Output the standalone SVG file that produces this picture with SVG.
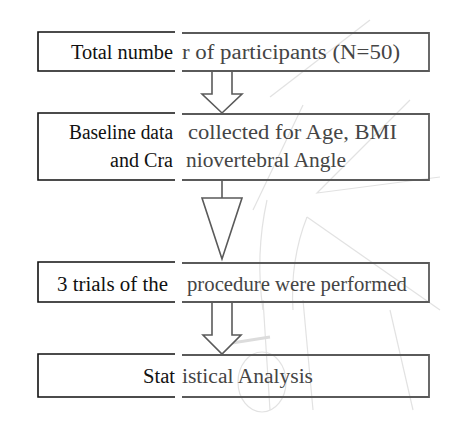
<svg xmlns="http://www.w3.org/2000/svg" width="474" height="427" viewBox="0 0 474 427">
<style>
.bl{fill:none;stroke:#111;stroke-width:1.6}
.br{fill:none;stroke:#5a5a5a;stroke-width:1.8}
text{font-family:'Liberation Serif','Tinos','Times New Roman','Noto Serif','DejaVu Serif','Nimbus Roman','FreeSerif',Times,serif;font-size:20px}
.tl{fill:#111}
.tr{fill:#454545;font-size:20.5px}
.ar{fill:#fff;stroke:#5a5a5a;stroke-width:1.6;stroke-linejoin:miter}
.wm{fill:none;stroke:#e2e2e2;stroke-width:1.2}
</style>
<rect width="474" height="427" fill="#fff"/>
<g id="watermark">
<path class="wm" d="M370,20 L270,97"/>
<path class="wm" d="M410,100 L317,193 L440,177"/>
<path class="wm" d="M303,105 L253,210"/>
<path class="wm" d="M267,200 Q255,255 263,310"/>
<path class="wm" d="M307,217 Q290,260 293,310"/>
<path class="wm" d="M307,217 L440,310"/>
<path class="wm" d="M263,300 L270,410"/>
<path class="wm" d="M303,300 L313,410"/>
<path class="wm" d="M390,310 L413,410"/>
<ellipse class="wm" cx="262" cy="382" rx="24" ry="30"/>
<path d="M232,343 L270,337" stroke="#dcdcdc" stroke-width="3" fill="none"/>
</g>
<g id="connectors">
<path id="a1" class="ar" d="M212,71 V94 H202 L222,113 L242,94 H232 V71"/>
<path id="a2s" class="ar" d="M222,180 V198"/>
<path id="a2" class="ar" d="M202,198 L242,198 L222,259 Z"/>
<path id="a3" class="ar" d="M212,302 V335 H203 L222,354 L241,335 H232 V302"/>
</g>
<g id="n1">
<path class="bl" d="M175,32 H38 V71 H175"/>
<path class="br" d="M182,33 H429 V71 H182"/>
<text class="tl" x="71" y="59" textLength="102" lengthAdjust="spacingAndGlyphs">Total numbe</text>
<text class="tr" x="182" y="59" textLength="218" lengthAdjust="spacingAndGlyphs">r of participants  (N=50)</text>
</g>
<g id="n2">
<path class="bl" d="M175,113 H38 V180 H175"/>
<path class="br" d="M182,114 H429 V180 H182"/>
<text class="tl" x="69" y="139" textLength="104" lengthAdjust="spacingAndGlyphs">Baseline data</text>
<text class="tr" x="188" y="139" textLength="209" lengthAdjust="spacingAndGlyphs">collected  for Age, BMI</text>
<text class="tl" x="110" y="167" textLength="63" lengthAdjust="spacingAndGlyphs">and Cra</text>
<text class="tr" x="186" y="167" textLength="160" lengthAdjust="spacingAndGlyphs">niovertebral  Angle</text>
</g>
<g id="n3">
<path class="bl" d="M175,262 H38 V302 H175"/>
<path class="br" d="M182,263 H429 V302 H182"/>
<text class="tl" x="57" y="291" textLength="111" lengthAdjust="spacingAndGlyphs">3 trials of the</text>
<text class="tr" x="187" y="291" textLength="220" lengthAdjust="spacingAndGlyphs">procedure were performed</text>
</g>
<g id="n4">
<path class="bl" d="M175,354 H38 V397 H175"/>
<path class="br" d="M182,355 H429 V397 H182"/>
<text class="tl" x="143" y="383" textLength="32" lengthAdjust="spacingAndGlyphs">Stat</text>
<text class="tr" x="182" y="383" textLength="131" lengthAdjust="spacingAndGlyphs">istical Analysis</text>
</g>
</svg>
